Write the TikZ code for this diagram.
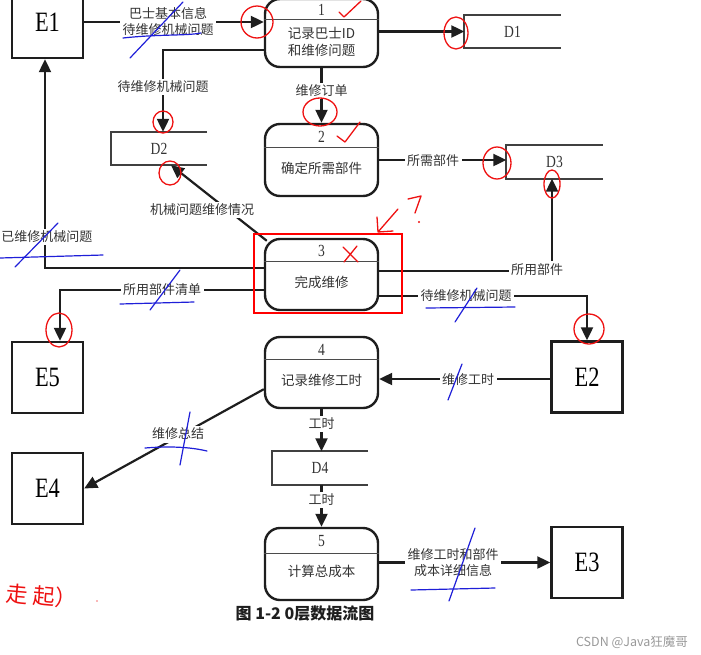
\documentclass[tikz,border=0pt]{standalone}
\usepackage{fontspec}
\setmainfont{Liberation Serif}
\newfontfamily\cjk{Noto Sans CJK SC}
\newfontfamily\efont[FakeStretch=0.8]{Liberation Serif}
\usetikzlibrary{arrows.meta,calc}
\definecolor{ink}{HTML}{1E1E1E}
\definecolor{txt}{HTML}{333333}
\definecolor{pen}{HTML}{EE1111}
\definecolor{bluepen}{HTML}{1F1FD8}
\tikzset{
  line/.style={draw=ink, line width=2.2pt},
  flow/.style={line, -{Triangle[length=13pt,width=12pt]}},
  proc/.style={draw=ink, line width=2.4pt, rounded corners=15pt, minimum width=113pt, inner sep=0pt},
  divider/.style={draw=ink!80, line width=1.2pt},
  ent/.style={draw=ink, line width=2.4pt, minimum width=71pt, minimum height=71pt, inner sep=0pt,
              font=\efont\fontsize{28}{30}\selectfont},
  store/.style={minimum width=96pt, minimum height=33pt, inner sep=0pt, text=txt,
              font=\efont\fontsize{17}{19}\selectfont},
  storeline/.style={draw=ink!85, line width=1.9pt},
  lbl/.style={fill=white, text=txt, font=\cjk\fontsize{13}{16}\selectfont, inner sep=2.5pt, align=center},
  ptxt/.style={text=txt, font=\cjk\fontsize{13.5}{17}\selectfont, align=center, inner sep=0pt},
  pnum/.style={text=txt, font=\efont\fontsize{17}{19}\selectfont, inner sep=0pt},
  redmark/.style={draw=pen, line width=1.3pt, line cap=round, line join=round},
  bluemark/.style={draw=bluepen, line width=1.2pt, line cap=round},
}
\begin{document}
\begin{tikzpicture}[x=1pt, y=-1pt]
\useasboundingbox (0,0) rectangle (701,654);
\clip (0,0) rectangle (701,654);

% ---------- external entities ----------
\node[ent] (e1) at (47.5,22) [minimum height=72pt] {E1};
\node[ent] (e2) at (587,377) {E2};
\node[ent] (e3) at (587,562.5) {E3};
\node[ent] (e4) at (47.5,488.5) {E4};
\node[ent] (e5) at (47.5,377.5) {E5};

% ---------- processes ----------
\node[proc, minimum height=68pt] (p1) at (321.5,33) {};
\node[proc, minimum height=72pt] (p2) at (321.5,160) {};
\node[proc, minimum height=71pt] (p3) at (321.5,274.5) {};
\node[proc, minimum height=71pt] (p4) at (321.5,372.5) {};
\node[proc, minimum height=72pt] (p5) at (321.5,564) {};
\draw[divider] ($(p1.north west)+(0,22)$) -- ($(p1.north east)+(0,22)$);
\draw[divider] ($(p2.north west)+(0,25)$) -- ($(p2.north east)+(0,25)$);
\draw[divider] ($(p3.north west)+(0,24)$) -- ($(p3.north east)+(0,24)$);
\draw[divider] ($(p4.north west)+(0,24)$) -- ($(p4.north east)+(0,24)$);
\draw[divider] ($(p5.north west)+(0,27)$) -- ($(p5.north east)+(0,27)$);
\node[pnum] (p1n) at (321.5,10) {1};
\node[pnum] (p2n) at (321.5,137) {2};
\node[pnum] (p3n) at (321.5,251) {3};
\node[pnum] (p4n) at (321.5,349.5) {4};
\node[pnum] (p5n) at (321.5,541.5) {5};
\node[ptxt] (p1t) at (321.5,42) {记录巴士ID\\和维修问题};
\node[ptxt] (p2t) at (321.5,168) {确定所需部件};
\node[ptxt] (p3t) at (321.5,282) {完成维修};
\node[ptxt] (p4t) at (321.5,380) {记录维修工时};
\node[ptxt] (p5t) at (321.5,571) {计算总成本};

% ---------- data stores ----------
\node[store] (d1) at (512.5,31.5) {D1};
\node[store] (d2) at (159,148.5) {D2};
\node[store] (d3) at (554.5,162) {D3};
\node[store] (d4) at (320,468) {D4};
\foreach \d in {d1,d2,d3,d4}
  \draw[storeline] (\d.north east) -- (\d.north west) -- (\d.south west) -- (\d.south east);

% ---------- flows ----------
\draw[flow] (e1.east) -- (p1.west |- e1.east);
\node[lbl] (l1) at (168,21) {巴士基本信息\\待维修机械问题};

\draw[flow] (p1.east |- d1.west) -- (d1.west);

\coordinate (c1) at (163,50);
\draw[flow] (p1.west |- c1) -- (c1) -- (c1 |- d2.north);
\node[lbl] (l2) at (163,87) {待维修机械问题};

\draw[flow] (p1.south) -- (p2.north);
\node[lbl] (l3) at (321.5,91) {维修订单};

\draw[flow] (p2.east) -- (d3.west |- p2.east);
\node[lbl] (l4) at (433,161) {所需部件};

\coordinate (c2) at (552,271);
\draw[flow] (p3.east |- c2) -- (c2) -- (c2 |- d3.south);
\node[lbl] (l5) at (537,270) {所用部件};

\coordinate (c3) at (587,296);
\draw[flow] (p3.east |- c3) -- (c3) -- (e2.north);
\node[lbl] (l6) at (466,296) {待维修机械问题};

\draw[flow] ($(p3.north west)+(3,3)$) -- ($(d2.south)+(12,0)$);
\node[lbl] (l7) at (202,210) {机械问题维修情况};

\coordinate (c4) at (45,268);
\draw[flow] (p3.west |- c4) -- (c4) -- (c4 |- e1.south);
\node[lbl] (l8) at (47,237) {已维修机械问题};

\coordinate (c5) at (60,290);
\draw[flow] (p3.west |- c5) -- (c5) -- (c5 |- e5.north);
\node[lbl] (l9) at (162,290) {所用部件清单};

\coordinate (c6) at (552,379);
\draw[flow] (e2.west |- c6) -- (p4.east |- c6);
\node[lbl] (l10) at (468,380) {维修工时};

\draw[flow] ($(p4.south west)+(0,-20)$) -- (e4.east);
\node[lbl] (l11) at (178,434) {维修总结};

\draw[flow] (p4.south) -- (d4.north -| p4.south);
\node[lbl] (l12) at (321.5,424) {工时};

\draw[flow] (d4.south -| p5.north) -- (p5.north);
\node[lbl] (l13) at (321.5,500) {工时};

\draw[flow] (p5.east |- e3.west) -- (e3.west);
\node[lbl] (l14) at (453,563) {维修工时和部件\\成本详细信息};

% ---------- caption & watermark ----------
\node[font=\cjk\bfseries\fontsize{16}{18}\selectfont, text=ink] (cap) at (305,613) {图 1-2 0层数据流图};
\node[font=\cjk\fontsize{12.5}{14}\selectfont, text=black!40] (wm) at (632,642) {CSDN @Java狂魔哥};

% ---------- red annotations ----------
\draw[draw=red, line width=2pt] (254,234) rectangle (402,313);
\draw[redmark] (257,22) ellipse [x radius=16, y radius=16];
\draw[redmark] (456,33) ellipse [x radius=12, y radius=16];
\draw[redmark] (163,122) ellipse [x radius=10, y radius=11];
\draw[redmark] (170,173) ellipse [x radius=11, y radius=12];
\draw[redmark] (320,112) ellipse [x radius=17, y radius=14];
\draw[redmark] (497,163) ellipse [x radius=14, y radius=16];
\draw[redmark] (552,184) ellipse [x radius=8, y radius=14];
\draw[redmark] (59,330) ellipse [x radius=13, y radius=17];
\draw[redmark] (589,329) ellipse [x radius=15, y radius=15];
\draw[redmark] (339,12) -- (344,17) -- (361,1);
\draw[redmark] (337,136) -- (345,142) -- (360,122);
\draw[redmark] (343,247) -- (358,262) (357,246) -- (344,262);
\draw[redmark] (398,209) -- (378,232) (377,217) -- (378,232) -- (393,231);
\draw[redmark] (408,199) -- (421,196) -- (415,213);
\fill[pen] (419,222) circle (1.2);
\node[text=pen, font=\cjk\fontsize{22}{24}\selectfont, rotate=-5] (hw) at (42,596) {走 起）};
\fill[pen!60] (97,601) circle (0.9);

% ---------- blue annotations ----------
\draw[bluemark] (123,38) .. controls (160,34) and (185,36) .. (201,33);
\draw[bluemark] (130,58) -- (183,2);
\draw[bluemark] (0,258) -- (103,255);
\draw[bluemark] (15,267) -- (58,223);
\draw[bluemark] (120,304) -- (194,302);
\draw[bluemark] (150,310) -- (180,270);
\draw[bluemark] (426,308) -- (515,307);
\draw[bluemark] (455,322) -- (477,288);
\draw[bluemark] (448,400) -- (462,364);
\draw[bluemark] (145,448) .. controls (170,446) and (190,447) .. (207,451);
\draw[bluemark] (180,465) -- (190,412);
\draw[bluemark] (411,590) -- (495,588);
\draw[bluemark] (449,601) -- (475,528);
\end{tikzpicture}
\end{document}
